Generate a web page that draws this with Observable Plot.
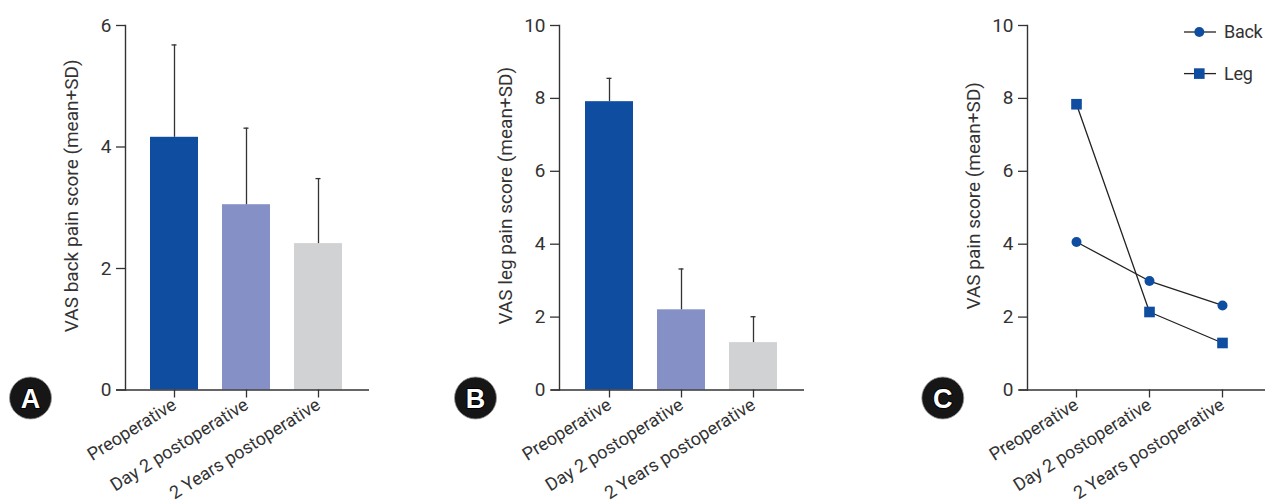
<!DOCTYPE html>
<html>
<head>
<meta charset="utf-8">
<script src="https://cdn.jsdelivr.net/npm/d3@7"></script>
<script src="https://cdn.jsdelivr.net/npm/@observablehq/plot@0.6"></script>
<style>
  html, body { margin: 0; padding: 0; background: #fff; }
  #wrap { position: relative; width: 1265px; height: 502px; overflow: hidden; font-family: Roboto, "Noto Sans", sans-serif; }
  .panel { position: absolute; top: 0; }
  #legend { position: absolute; left: 1178px; top: 12px; overflow: visible; }
</style>
</head>
<body>
<div id="wrap">
  <div class="panel" id="pA" style="left:0px"></div>
  <div class="panel" id="pB" style="left:420px"></div>
  <div class="panel" id="pC" style="left:840px"></div>
  <svg id="legend" width="87" height="82"></svg>
</div>
<script>
// ---- data ----
const categories = ["Preoperative", "Day 2 postoperative", "2 Years postoperative"];
const barColors = ["#0E4DA0", "#8591C6", "#D1D2D4"];
const backMean = [4.16, 3.05, 2.41];
const backSD = [1.52, 1.26, 1.07];
const legMean = [7.91, 2.20, 1.30];
const legSD = [0.64, 1.12, 0.71];
const trendBack = [4.06, 2.99, 2.32];
const trendLeg = [7.84, 2.14, 1.29];
const seriesNames = ["Back", "Leg"];
const ticksBack = [0, 2, 4, 6];
const ticksTen = [0, 2, 4, 6, 8, 10];
const panelLetters = ["A", "B", "C"];
const yLabels = ["VAS back pain score (mean+SD)", "VAS leg pain score (mean+SD)", "VAS pain score (mean+SD)"];

const INK = "#333";
const MARK = "#0E4DA0";
const FONT = "Roboto, 'Noto Sans', sans-serif";

function letterMarks(letter, dx, dy) {
  return [
    Plot.dot([letter], {frameAnchor: "bottom-left", dx, dy, r: 21, fill: "#161616", stroke: "#9a9a9a", strokeWidth: 0.8}),
    Plot.text([letter], {frameAnchor: "bottom-left", dx, dy: dy + 1, text: d => d, textAnchor: "middle", lineAnchor: "middle",
      fill: "#fff", stroke: "#000", strokeWidth: 2, paintOrder: "stroke",
      fontSize: 27, fontWeight: "bold", fontFamily: "'Liberation Sans', Arial, sans-serif"})
  ];
}

function yLabelMark(label) {
  return Plot.text([label], {frameAnchor: "left", text: d => d, rotate: -90, dx: -53.5, dy: -12,
    textAnchor: "middle", lineAnchor: "middle", fill: INK, fontSize: 19});
}

function xAxisMark() {
  return Plot.axisX({tickSize: 8, tickPadding: 5, tickRotate: -32, strokeWidth: 1.3, fontSize: 18, label: null});
}

function barPanel({mean, sd, yMax, ticks, label, letter, width, marginLeft, marginRight, xRange, baseInset, letterDx}) {
  const data = categories.map((c, i) => ({cat: c, mean: mean[i], top: mean[i] + sd[i]}));
  return Plot.plot({
    width, height: 502,
    marginLeft, marginRight, marginTop: 25, marginBottom: 112.5,
    style: {fontFamily: FONT, fontSize: "19px", color: INK, background: "transparent", overflow: "visible"},
    x: {domain: categories, range: xRange, paddingInner: 0.33, paddingOuter: 0},
    y: {domain: [0, yMax]},
    color: {domain: categories, range: barColors},
    marks: [
      Plot.barY(data, {x: "cat", y: "mean", fill: "cat"}),
      Plot.ruleX(data, {x: "cat", y1: "mean", y2: "top", stroke: INK, strokeWidth: 1.3}),
      Plot.tickY(data, {x: "cat", y: "top", stroke: INK, strokeWidth: 1.3, insetLeft: 21.5, insetRight: 21.5}),
      Plot.frame({anchor: "left", stroke: INK, strokeWidth: 1.4}),
      Plot.ruleY([0], {stroke: INK, strokeWidth: 1.4, insetLeft: -baseInset}),
      Plot.axisY({ticks, tickFormat: "d", tickSize: 9, tickPadding: 5, strokeWidth: 1.3, label: null}),
      xAxisMark(),
      yLabelMark(label),
      ...letterMarks(letter, letterDx, 8)
    ]
  });
}

document.getElementById("pA").append(barPanel({
  mean: backMean, sd: backSD, yMax: 6, ticks: ticksBack,
  label: yLabels[0], letter: panelLetters[0],
  width: 420, marginLeft: 125, marginRight: 51, xRange: [149, 343], baseInset: 9, letterDx: -95
}));

document.getElementById("pB").append(barPanel({
  mean: legMean, sd: legSD, yMax: 10, ticks: ticksTen,
  label: yLabels[1], letter: panelLetters[1],
  width: 420, marginLeft: 139, marginRight: 36, xRange: [164, 357.7], baseInset: 8, letterDx: -84
}));

// panel C
const trend = [];
categories.forEach((c, i) => {
  trend.push({cat: c, series: seriesNames[0], value: trendBack[i]});
  trend.push({cat: c, series: seriesNames[1], value: trendLeg[i]});
});
const backPts = trend.filter(d => d.series === seriesNames[0]);
const legPts = trend.filter(d => d.series === seriesNames[1]);

document.getElementById("pC").append(Plot.plot({
  width: 425, height: 502,
  marginLeft: 187, marginRight: 0, marginTop: 25, marginBottom: 112.5,
  style: {fontFamily: FONT, fontSize: "19px", color: INK, background: "transparent", overflow: "visible"},
  x: {type: "point", domain: categories, range: [235.7, 381.7], padding: 0},
  y: {domain: [0, 10]},
  marks: [
    Plot.frame({anchor: "left", stroke: INK, strokeWidth: 1.4}),
    Plot.ruleY([0], {stroke: INK, strokeWidth: 1.4, insetLeft: -8}),
    Plot.line(trend, {x: "cat", y: "value", z: "series", stroke: "#222", strokeWidth: 1.3}),
    Plot.dot(backPts, {x: "cat", y: "value", r: 5, fill: MARK, symbol: "circle"}),
    Plot.dot(legPts, {x: "cat", y: "value", r: 6, fill: MARK, symbol: "square"}),
    Plot.axisY({ticks: ticksTen, tickFormat: "d", tickSize: 9, tickPadding: 5, strokeWidth: 1.3, label: null}),
    xAxisMark(),
    yLabelMark(yLabels[2]),
    ...letterMarks(panelLetters[2], -84.7, 8)
  ]
}));

// legend (top right of panel C)
const lg = d3.select("#legend");
const rows = lg.selectAll("g").data(seriesNames).join("g")
  .attr("transform", (d, i) => `translate(0, ${20 + i * 41.6})`);
rows.append("line").attr("x1", 6).attr("x2", 38).attr("y1", 0).attr("y2", 0).attr("stroke", "#222").attr("stroke-width", 1.3);
rows.filter((d, i) => i === 0).append("circle").attr("cx", 21.3).attr("cy", 0).attr("r", 5).attr("fill", MARK);
rows.filter((d, i) => i === 1).append("rect").attr("x", 16).attr("y", -5.3).attr("width", 10.6).attr("height", 10.6).attr("fill", MARK);
rows.append("text").attr("x", 46).attr("y", 0).attr("dy", "0.35em").attr("fill", INK)
  .style("font-family", FONT).style("font-size", "18px").style("letter-spacing", "-0.3px").text(d => d);
</script>
</body>
</html>
